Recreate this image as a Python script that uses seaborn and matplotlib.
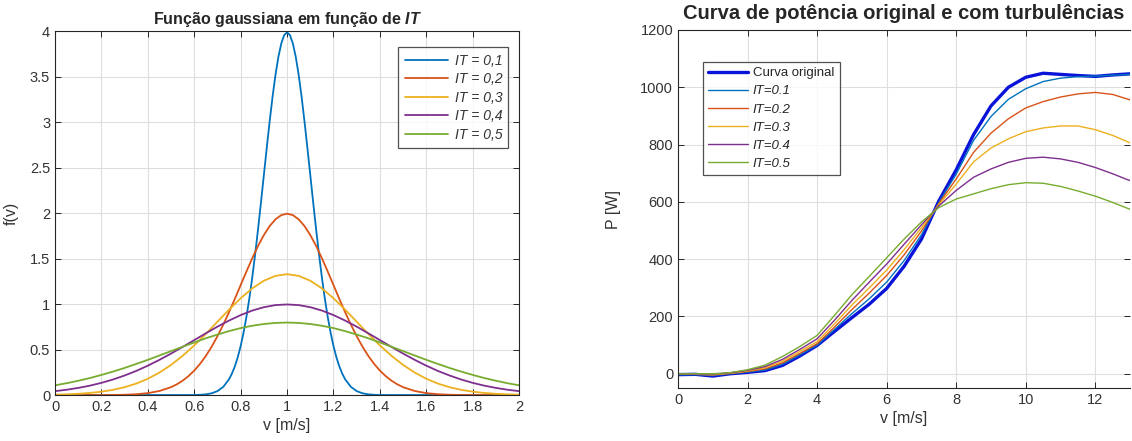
import numpy as np
import pandas as pd
import matplotlib
matplotlib.use('Agg')
import matplotlib.pyplot as plt
import seaborn as sns

# ---- left panel: gaussian f(v) for each turbulence intensity ----
# sample positions (denser where the narrow curves peak)
v_it01 = np.round(np.concatenate([[0.0], np.linspace(0.6, 0.725, 6), np.linspace(0.75, 1.25, 41),
                                  np.linspace(1.275, 1.4, 6), [2.0]]), 4)
f_it01 = [0.0,
          0.0013, 0.0035, 0.0087, 0.0203, 0.0443, 0.091,
          0.175, 0.238, 0.317, 0.417, 0.540, 0.688, 0.863, 1.065, 1.295, 1.550, 1.826, 2.119,
          2.420, 2.720, 3.011, 3.281, 3.521, 3.718, 3.866, 3.958, 3.989, 3.958, 3.866, 3.718,
          3.521, 3.281, 3.011, 2.720, 2.420, 2.119, 1.826, 1.550, 1.295, 1.065, 0.863, 0.688,
          0.540, 0.417, 0.317, 0.238, 0.175,
          0.091, 0.0443, 0.0203, 0.0087, 0.0035, 0.0013,
          0.0]

v_it02 = np.round(np.concatenate([np.linspace(0.0, 0.45, 10), np.linspace(0.5, 1.5, 41),
                                  np.linspace(1.55, 2.0, 10)]), 4)
f_it02 = [0.0, 0.0, 0.0, 0.0002, 0.0007, 0.0018, 0.0044, 0.0101, 0.0222, 0.0455,
          0.0876, 0.119, 0.159, 0.209, 0.270, 0.344, 0.431, 0.533, 0.648, 0.775, 0.913, 1.059,
          1.210, 1.360, 1.506, 1.641, 1.760, 1.859, 1.933, 1.979, 1.995, 1.979, 1.933, 1.859,
          1.760, 1.641, 1.506, 1.360, 1.210, 1.059, 0.913, 0.775, 0.648, 0.533, 0.431, 0.344,
          0.270, 0.209, 0.159, 0.119, 0.0876,
          0.0455, 0.0222, 0.0101, 0.0044, 0.0018, 0.0007, 0.0002, 0.0, 0.0, 0.0]

v_wide = np.round(np.linspace(0.0, 2.0, 41), 4)
f_it03 = [0.0051, 0.0088, 0.0148, 0.0240, 0.0380, 0.0584, 0.0874, 0.127, 0.180, 0.248, 0.332,
          0.432, 0.547, 0.673, 0.807, 0.940, 1.065, 1.174, 1.258, 1.311, 1.330, 1.311, 1.258,
          1.174, 1.065, 0.940, 0.807, 0.673, 0.547, 0.432, 0.332, 0.248, 0.180, 0.127, 0.0874,
          0.0584, 0.0380, 0.0240, 0.0148, 0.0088, 0.0051]
f_it04 = [0.0438, 0.0594, 0.0794, 0.104, 0.135, 0.172, 0.216, 0.266, 0.324, 0.388, 0.457, 0.530,
          0.605, 0.680, 0.753, 0.820, 0.880, 0.930, 0.967, 0.990, 0.997, 0.990, 0.967, 0.930,
          0.880, 0.820, 0.753, 0.680, 0.605, 0.530, 0.457, 0.388, 0.324, 0.266, 0.216, 0.172,
          0.135, 0.104, 0.0794, 0.0594, 0.0438]
f_it05 = [0.108, 0.131, 0.158, 0.188, 0.222, 0.259, 0.299, 0.343, 0.388, 0.436, 0.484, 0.532,
          0.579, 0.625, 0.666, 0.704, 0.737, 0.763, 0.782, 0.794, 0.798, 0.794, 0.782, 0.763,
          0.737, 0.704, 0.666, 0.625, 0.579, 0.532, 0.484, 0.436, 0.388, 0.343, 0.299, 0.259,
          0.222, 0.188, 0.158, 0.131, 0.108]
left_labels = ['IT = 0,1', 'IT = 0,2', 'IT = 0,3', 'IT = 0,4', 'IT = 0,5']

# ---- right panel: power curves ----
v_pow = [0, 0.5, 1, 1.5, 2, 2.5, 3, 3.5, 4, 4.5, 5, 5.5, 6, 6.5, 7, 7.5, 8, 8.5, 9, 9.5, 10,
         10.5, 11, 11.5, 12, 12.5, 13]
p_orig = [-3, -2, -8, 0, 5, 11, 29, 62, 99, 148, 196, 243, 298, 375, 470, 603, 712, 835, 935,
          1000, 1035, 1049, 1045, 1041, 1038, 1043, 1047]
p_it01 = [-3, -3, -6, 0, 6, 13, 33, 66, 100, 155, 210, 262, 320, 395, 485, 598, 697, 815, 898,
          958, 995, 1020, 1032, 1037, 1039, 1042, 1045]
p_it02 = [-2, -2, -4, 1, 8, 17, 38, 71, 105, 163, 224, 282, 343, 415, 498, 594, 680, 773, 840,
          890, 928, 950, 966, 977, 982, 975, 956]
p_it03 = [-2, -1, -3, 2, 10, 21, 44, 78, 112, 174, 240, 300, 362, 433, 510, 590, 662, 740, 788,
          820, 845, 858, 865, 865, 852, 832, 806]
p_it04 = [-1, -1, -1, 3, 12, 25, 50, 85, 122, 187, 256, 320, 383, 452, 520, 586, 640, 686, 715,
          738, 752, 756, 750, 738, 720, 698, 674]
p_it05 = [-1, 0, 0, 4, 14, 30, 60, 95, 134, 204, 276, 340, 405, 470, 530, 580, 610, 628, 646,
          660, 667, 665, 654, 638, 620, 598, 574]
right_labels = ['Curva original', 'IT=0.1', 'IT=0.2', 'IT=0.3', 'IT=0.4', 'IT=0.5']

colors = ['#0072BD', '#D95319', '#EDB120', '#7E2F8E', '#77AC30']
orig_color = '#0a14d8'

sns.set_style('ticks')
plt.rcParams['font.family'] = ['Liberation Sans', 'DejaVu Sans']
plt.rcParams['mathtext.fontset'] = 'custom'
plt.rcParams['mathtext.rm'] = 'Liberation Sans'
plt.rcParams['mathtext.it'] = 'Liberation Sans:italic'
plt.rcParams['mathtext.bf'] = 'Liberation Sans:bold'
plt.rcParams['mathtext.bfit'] = 'Liberation Sans:italic:bold'

axc = '#262626'

fig = plt.figure(figsize=(11.32, 4.41), dpi=100)
ax1 = fig.add_axes([0.0486, 0.104, 0.41, 0.825])
ax2 = fig.add_axes([0.599, 0.12, 0.3993, 0.812])


def style_axes(ax):
    ax.grid(True, color='#dedede', linewidth=0.8)
    ax.set_axisbelow(True)
    for s in ax.spines.values():
        s.set_color(axc)
        s.set_linewidth(0.8)
    ax.tick_params(direction='in', top=True, right=True, length=4, width=0.7,
                   colors=axc, labelsize=10.5, labelcolor='#333333')


# left
lw = 1.3
left_series = [(v_it01, f_it01), (v_it02, f_it02), (v_wide, f_it03), (v_wide, f_it04), (v_wide, f_it05)]
for (xs, ys), c, lab in zip(left_series, colors, left_labels):
    sns.lineplot(x=xs, y=ys, ax=ax1, color=c, lw=lw, label=lab)
ax1.set_xlim(0, 2)
ax1.set_ylim(0, 4)
ax1.set_xticks(np.arange(0, 2.01, 0.2))
ax1.set_xticklabels(['0', '0.2', '0.4', '0.6', '0.8', '1', '1.2', '1.4', '1.6', '1.8', '2'])
ax1.set_yticks(np.arange(0, 4.01, 0.5))
ax1.set_yticklabels(['0', '0.5', '1', '1.5', '2', '2.5', '3', '3.5', '4'])
style_axes(ax1)
ax1.set_xlabel('v [m/s]', fontsize=11.5, color='#333333', labelpad=3)
ax1.set_ylabel('f(v)', fontsize=11.5, color='#333333', labelpad=8)
ax1.set_title(r'Função gaussiana em função de $\mathbfit{IT}$', fontsize=11.5,
              fontweight='bold', pad=5)
leg1 = ax1.legend(loc='upper right', bbox_to_anchor=(0.977, 0.956), borderaxespad=0,
                  fontsize=10, handlelength=3.1, frameon=True, fancybox=False, edgecolor=axc,
                  borderpad=0.45, labelspacing=0.33, handletextpad=0.5)
leg1.get_frame().set_linewidth(0.9)
for t in leg1.get_texts():
    t.set_fontstyle('italic')
    t.set_color('#333333')

# right
sns.lineplot(x=v_pow, y=p_orig, ax=ax2, color=orig_color, lw=2.4, label=right_labels[0])
for vals, c, lab in zip([p_it01, p_it02, p_it03, p_it04, p_it05], colors, right_labels[1:]):
    sns.lineplot(x=v_pow, y=vals, ax=ax2, color=c, lw=1.0, label=lab)
ax2.set_xlim(0, 13)
ax2.set_ylim(-50, 1200)
ax2.set_xticks(np.arange(0, 13, 2))
ax2.set_yticks(np.arange(0, 1201, 200))
style_axes(ax2)
ax2.spines['right'].set_visible(False)
ax2.set_xlabel('v [m/s]', fontsize=11.5, color='#333333', labelpad=3)
ax2.set_ylabel('P [W]', fontsize=11.5, color='#333333', labelpad=14)
ax2.set_title('Curva de potência original e com turbulências', fontsize=14.5,
              fontweight='bold', pad=8)
leg2 = ax2.legend(loc='upper left', bbox_to_anchor=(0.04, 0.93), fontsize=9.5,
                  handlelength=3.0, frameon=True, fancybox=False, edgecolor=axc,
                  borderpad=0.4, labelspacing=0.45, handletextpad=0.4)
leg2.get_frame().set_linewidth(0.9)
for i, t in enumerate(leg2.get_texts()):
    if i > 0:
        t.set_fontstyle('italic')

fig.savefig('out.png', dpi=100)
